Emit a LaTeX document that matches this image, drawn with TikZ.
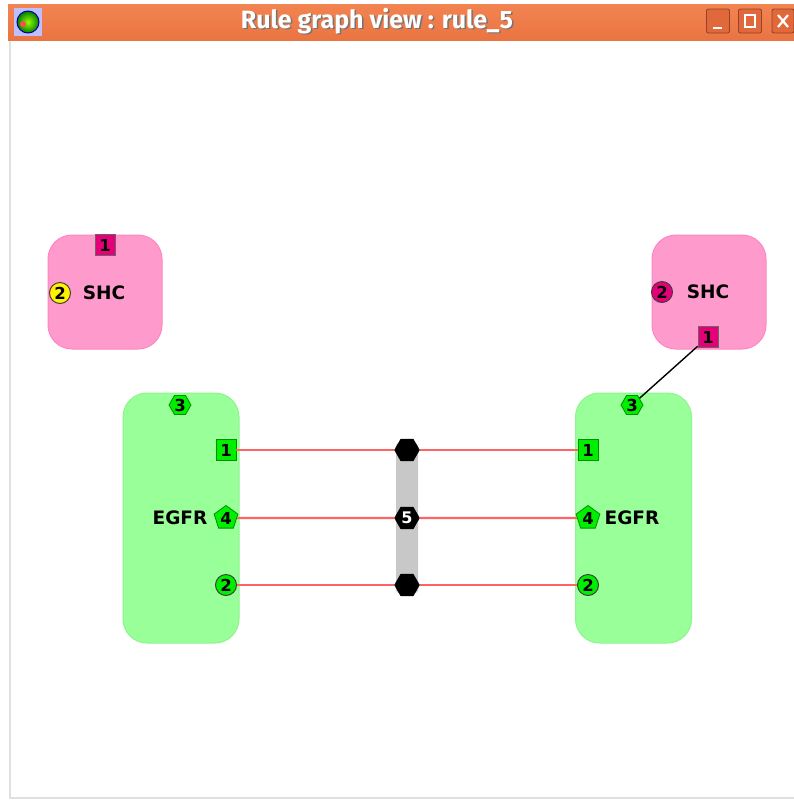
\documentclass[tikz,border=0pt]{standalone}
\usepackage{fontspec}
\setmainfont{DejaVu Sans}
\newfontfamily\titlefont{Fira Sans}
\usetikzlibrary{shapes.geometric}
\definecolor{titleor}{HTML}{EA7442}
\definecolor{titleorlight}{HTML}{F28452}
\definecolor{btnor}{HTML}{E0683A}
\definecolor{pinkbox}{HTML}{FF9ACD}
\definecolor{pinkedge}{HTML}{FF85C2}
\definecolor{greenbox}{HTML}{99FF99}
\definecolor{greenedge}{HTML}{8CF58C}
\definecolor{portmag}{HTML}{E5007A}
\definecolor{portgreen}{HTML}{00EE00}
\definecolor{portgreenedge}{HTML}{009000}
\definecolor{linkred}{HTML}{FF6464}
\definecolor{bargray}{HTML}{C8C8C8}
\tikzset{
  agentbox/.style={rounded corners=24pt, line width=1pt, inner sep=0pt},
  shcbox/.style={agentbox, fill=pinkbox, draw=pinkedge, minimum width=114pt, minimum height=114pt},
  egfrbox/.style={agentbox, fill=greenbox, draw=greenedge, minimum width=116pt, minimum height=250pt},
  agentlabel/.style={font=\fontsize{18.5}{20}\selectfont\bfseries, inner sep=0pt},
  portnum/.style={font=\fontsize{16.5}{16}\selectfont\bfseries, inner sep=0pt},
  sqport/.style={portnum, draw=black!60, line width=0.8pt, minimum width=20pt, minimum height=21pt},
  rdport/.style={portnum, circle, draw=black!75, line width=1pt, minimum size=21pt},
  hexport/.style={portnum, regular polygon, regular polygon sides=6, draw=portgreenedge, fill=portgreen, line width=0.8pt, minimum size=22pt},
  pentport/.style={portnum, regular polygon, regular polygon sides=5, draw=portgreenedge, fill=portgreen, line width=0.8pt, minimum size=25pt},
  bondhex/.style={regular polygon, regular polygon sides=6, fill=black, draw=black, minimum size=25pt, inner sep=0pt, font=\fontsize{16}{16}\selectfont\bfseries, text=white},
  redlink/.style={linkred, line width=2.4pt},
  btn/.style={draw=black!35!btnor, fill=btnor, rounded corners=2pt, line width=0.9pt, minimum width=23pt, minimum height=24pt, inner sep=0pt},
  titletext/.style={inner sep=0pt, font=\titlefont\fontsize{25}{25}\selectfont\bfseries},
}
\begin{document}
\begin{tikzpicture}[x=1pt,y=-1pt]
\useasboundingbox (0,0) rectangle (794,801);
% window
\fill[white] (0,0) rectangle (794,801);
\shade[top color=titleorlight, bottom color=titleor] (8,4) rectangle (794,40);
\draw[black!12, line width=1.5pt] (10,41) -- (10,798) -- (794,798);
\node[titletext, text=black!55] at (378.5,22.5) {Rule graph view : rule\_5};
\node (title) [titletext, text=white] at (377,21) {Rule graph view : rule\_5};
% icon
\node (icon) [fill=blue!25, minimum size=28pt, inner sep=0pt] at (28,22) {};
\shade[inner color=yellow!60!green, outer color=green!50!black] (28,22) circle (11pt);
\fill[red!70] (23,24) circle (3pt);
\draw[blue!60!black, line width=1pt] (28,22) circle (11pt);
% buttons
\node (bmin) [btn] at (718,21) {};
\draw[white, line width=2pt] (713,28) -- (722,28);
\node (bmax) [btn] at (750,21) {};
\draw[white, line width=1.5pt] (745,15) rectangle (755,27);
\node (bclose) [btn, minimum width=22pt] at (783,21) {};
\draw[white, line width=2.2pt] (778,15) -- (788,27) (778,27) -- (788,15);

% agents
\node (shcL) [shcbox] at (105,292) {};
\node (shcR) [shcbox] at (709,292) {};
\node (egfrL) [egfrbox] at (181,518) {};
\node (egfrR) [egfrbox] at (633.5,518) {};

% bond bar
\node (bar) [fill=bargray, rounded corners=3pt, minimum width=22pt, minimum height=150pt, inner sep=0pt] at (407,518) {};

% left SHC
\node (shcL1) [sqport, fill=portmag] at (105,245) {1};
\node (shcL2) [rdport, fill=yellow] at (60,293) {2};
\node (shcLlab) [agentlabel] at (104,293) {SHC};
% right SHC
\node (shcR2) [rdport, fill=portmag] at (662,292) {2};
\node (shcRlab) [agentlabel] at (708,292) {SHC};
\node (shcR1) [sqport, fill=portmag] at (708,337) {1};

% left EGFR
\node (egfrLlab) [agentlabel] at (180,518) {EGFR};
\node (eL3) [hexport] at (180,405) {3};
\node (eL1) [sqport, fill=portgreen, draw=portgreenedge] at (226,450) {1};
\node (eL4) [pentport] at (226,518) {4};
\node (eL2) [rdport, fill=portgreen] at (226,585) {2};
% right EGFR
\node (egfrRlab) [agentlabel] at (632,518) {EGFR};
\node (eR3) [hexport] at (632,405) {3};
\node (eR1) [sqport, fill=portgreen, draw=portgreenedge] at (588,450) {1};
\node (eR4) [pentport] at (588,518) {4};
\node (eR2) [rdport, fill=portgreen] at (588,585) {2};

% bond hexagons
\node (b1) [bondhex] at (407,450) {};
\node (b5) [bondhex] at (407,518) {5};
\node (b2) [bondhex] at (407,585) {};

% links
\draw[redlink] (eL1) -- (b1);
\draw[redlink] (b1) -- (eR1);
\draw[redlink] (eL4) -- (b5);
\draw[redlink] (b5) -- (eR4);
\draw[redlink] (eL2) -- (b2);
\draw[redlink] (b2) -- (eR2);
\draw[black, line width=1.4pt] (shcR1) -- (eR3);
\end{tikzpicture}
\end{document}
